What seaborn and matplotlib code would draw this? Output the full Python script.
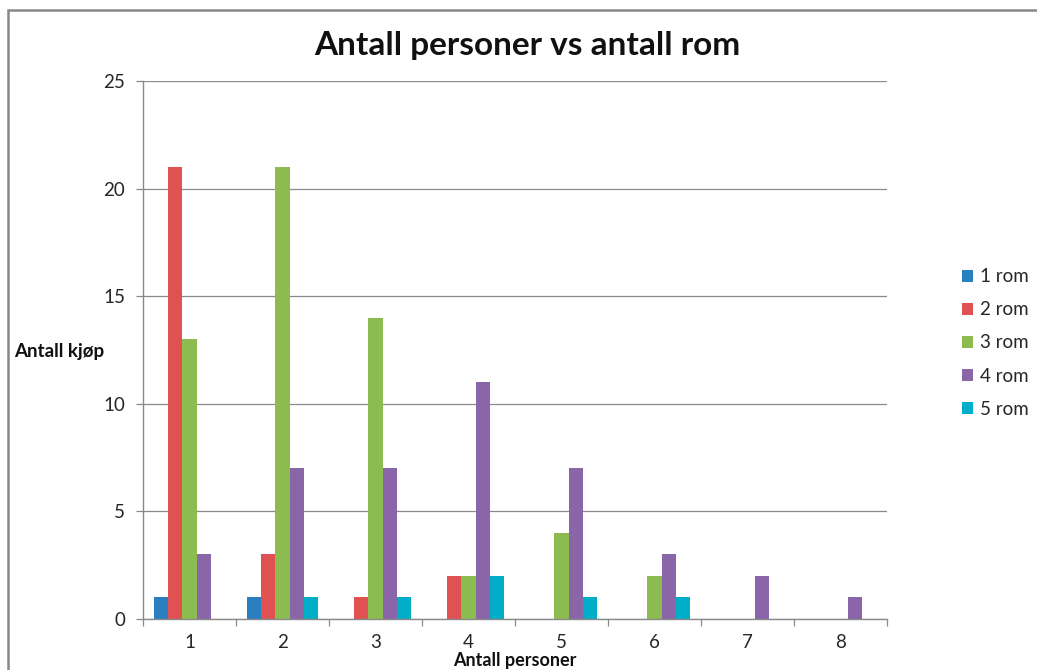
import matplotlib
matplotlib.use("Agg")
import matplotlib.pyplot as plt
from matplotlib.patches import Rectangle
from matplotlib.ticker import FixedLocator
import numpy as np
import pandas as pd
import seaborn as sns

# Number of purchases by household size, split by number of rooms
personer = ["1", "2", "3", "4", "5", "6", "7", "8"]
rom_1 = [1, 1, 0, 0, 0, 0, 0, 0]
rom_2 = [21, 3, 1, 2, 0, 0, 0, 0]
rom_3 = [13, 21, 14, 2, 4, 2, 0, 0]
rom_4 = [3, 7, 7, 11, 7, 3, 2, 1]
rom_5 = [0, 1, 1, 2, 1, 1, 0, 0]
serier = ["1 rom", "2 rom", "3 rom", "4 rom", "5 rom"]
farger = ["#2A7FC1", "#E05252", "#8CBB50", "#8A65A7", "#00AEC8"]
y_ticks = [0, 5, 10, 15, 20, 25]

df = pd.DataFrame({
    "personer": personer * 5,
    "antall": rom_1 + rom_2 + rom_3 + rom_4 + rom_5,
    "rom": [s for s in serier for _ in personer],
})

sns.set_theme(style="white")
plt.rcParams["font.family"] = ["Lato", "DejaVu Sans"]

fig = plt.figure(figsize=(10.37, 6.70), dpi=100)
W, H = 1037, 670
ax = fig.add_axes([143 / W, (H - 619) / H, (887 - 143) / W, (619 - 81) / H])

sns.barplot(data=df, x="personer", y="antall", hue="rom", order=personer,
            hue_order=serier, palette=farger, saturation=1, width=0.77,
            ax=ax, legend=False, errorbar=None, linewidth=0)

grid_c = "#898989"
ax.set_ylim(0, 25)
ax.set_xlim(-0.5, len(personer) - 0.5)
ax.set_yticks(y_ticks)
ax.yaxis.grid(True, color=grid_c, linewidth=0.9)
ax.set_axisbelow(True)
for side in ("top", "right"):
    ax.spines[side].set_visible(False)
for side in ("left", "bottom"):
    ax.spines[side].set_color(grid_c)
    ax.spines[side].set_linewidth(1.0)

ax.tick_params(axis="y", which="major", length=5, width=0.9, color=grid_c,
               direction="out", left=True, labelsize=13.5, pad=8,
               labelcolor="#262626")
ax.tick_params(axis="x", which="major", length=0, labelsize=13.5, pad=11,
               labelcolor="#262626")
ax.xaxis.set_minor_locator(FixedLocator(np.arange(-0.5, len(personer), 1.0)))
ax.tick_params(axis="x", which="minor", length=5, width=0.9, color=grid_c,
               direction="out", bottom=True)

ax.set_xlabel("")
ax.set_ylabel("")
fig.text((143 + 887) / 2 / W, 1 / H, "Antall personer", fontsize=13,
         fontweight="bold", ha="center", va="bottom", color="#111111")
fig.text(14 / W, 1 - 352 / H, "Antall kjøp", fontsize=13.5, fontweight="bold",
         ha="left", va="center", color="#111111")

fig.text(527 / W, 1 - 46 / H, "Antall personer vs antall rom", fontsize=24,
         fontweight="bold", ha="center", va="center", color="#111111")

handles = [Rectangle((0, 0), 1, 1, facecolor=c, edgecolor="none") for c in farger]
fig.legend(handles, serier, loc="center left",
           bbox_to_anchor=(962 / W, 1 - 343 / H), frameon=False,
           fontsize=13.5, handlelength=0.6, handleheight=0.6,
           handletextpad=0.35, labelspacing=0.86, borderaxespad=0,
           borderpad=0)

# Outer chart frame
fig.patches.append(Rectangle((8 / W, -0.05), 1.1, 1 - 10 / H + 0.05,
                             transform=fig.transFigure, fill=False,
                             edgecolor="#888888", linewidth=1.8))

fig.savefig("out.png", dpi=100, facecolor="white")
